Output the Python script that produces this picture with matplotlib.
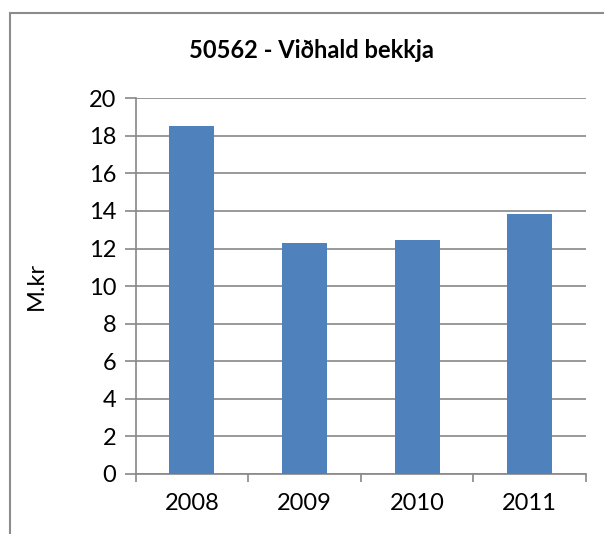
import matplotlib
matplotlib.use("Agg")
import matplotlib.pyplot as plt
from matplotlib.patches import Rectangle

categories = ["2008", "2009", "2010", "2011"]
values = [18.54, 12.31, 12.47, 13.85]
yticks = [0, 2, 4, 6, 8, 10, 12, 14, 16, 18, 20]
title = "50562 - Viðhald bekkja"
ylabel = "M.kr"

plt.rcParams['font.family'] = ['Lato', 'DejaVu Sans']

fig = plt.figure(figsize=(6.04, 5.34), dpi=100)
ax = fig.add_axes([0.2247, 0.1124, 0.970 - 0.2247, 0.816 - 0.1124])

x = list(range(len(categories)))
ax.bar(x, values, width=0.4, color="#4F81BD", zorder=3)
ax.set_xlim(-0.5, len(categories) - 0.5)
ax.set_ylim(0, 20)
ax.set_yticks(yticks)
ax.set_yticklabels([str(v) for v in yticks], fontsize=17)
ax.yaxis.grid(True, color="#888888", linewidth=1.2, zorder=0)
ax.set_xticks(x)
ax.set_xticklabels(categories, fontsize=17)
ax.tick_params(axis='x', length=0, pad=14)
ax.set_xticks([i - 0.5 for i in range(len(categories) + 1)], minor=True)
ax.tick_params(axis='x', which='minor', length=6, width=1.2, color="#888888", direction='out')
ax.tick_params(axis='y', length=8, width=1.2, color="#888888", direction='out', pad=6)

for s in ['top', 'right']:
    ax.spines[s].set_visible(False)
for s in ['left', 'bottom']:
    ax.spines[s].set_color("#888888")
    ax.spines[s].set_linewidth(1.2)

ax.set_ylabel(ylabel, fontsize=17, labelpad=30)
fig.text(0.516, 0.906, title, ha='center', va='center', fontsize=17, fontweight='bold')

fig.patches.append(Rectangle((10 / 604, -0.1), 1.2, 1 - 13 / 534 + 0.1, transform=fig.transFigure,
                             fill=False, edgecolor="#8c8c8c", linewidth=1.5))

fig.savefig("out.png", dpi=100)
